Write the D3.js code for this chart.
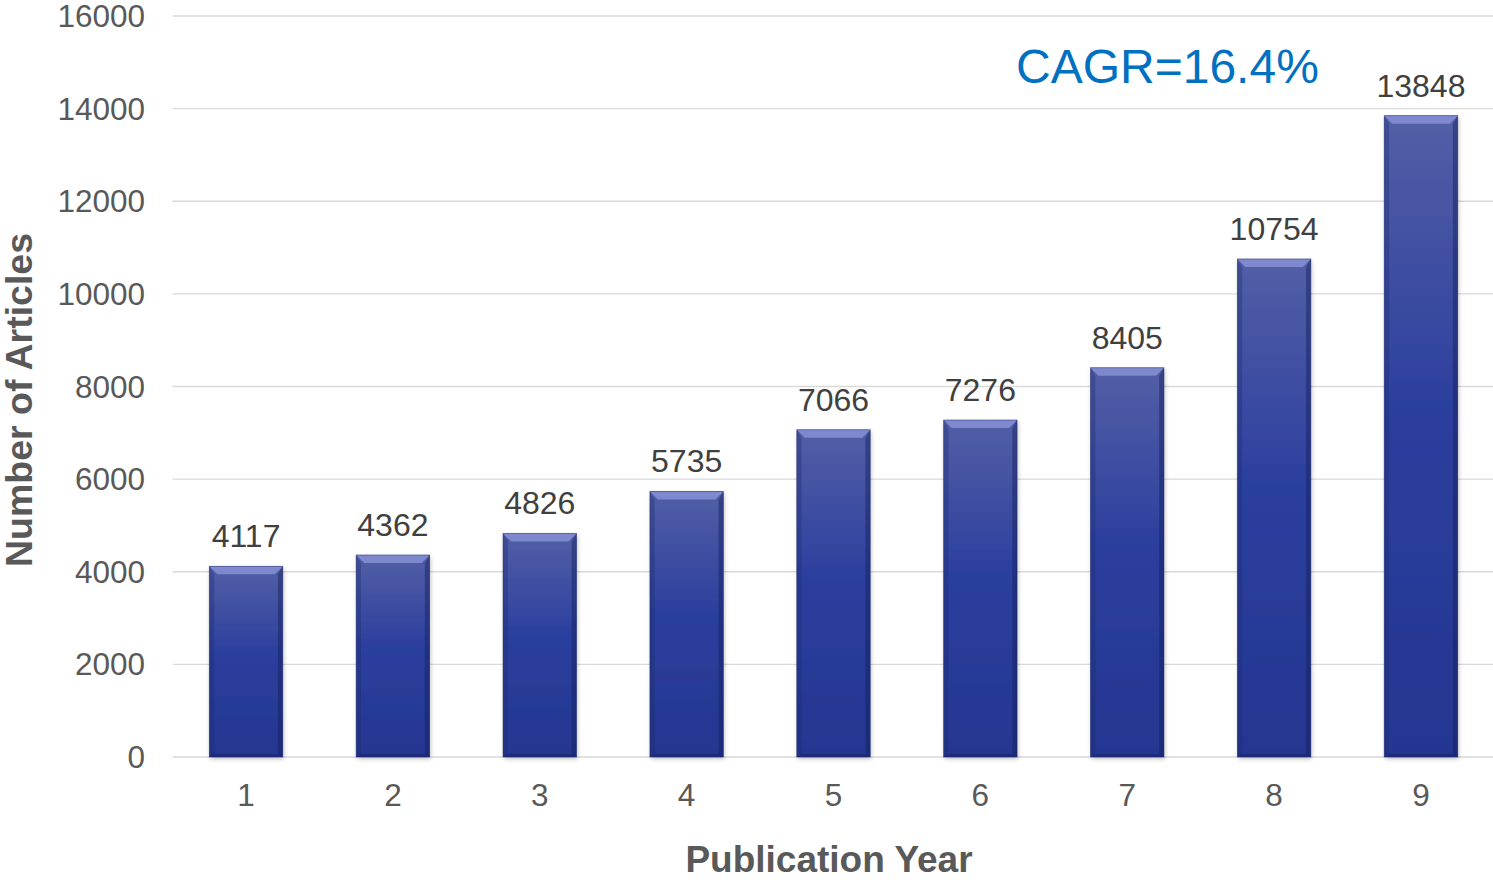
<!DOCTYPE html>
<html><head><meta charset="utf-8">
<script src="https://cdn.jsdelivr.net/npm/d3@7"></script>
<style>html,body{margin:0;padding:0;background:#fff;}svg{display:block;font-family:"Liberation Sans",Arial,sans-serif;}</style>
</head><body>
<svg id="c" width="1493" height="880"></svg>
<script>
const categories = ["1","2","3","4","5","6","7","8","9"];
const values = [4117,4362,4826,5735,7066,7276,8405,10754,13848];
const yTicks = [0,2000,4000,6000,8000,10000,12000,14000,16000];
const annotation = "CAGR=16.4%";
const xTitle = "Publication Year";
const yTitle = "Number of Articles";

(function(){
const svg = d3.select("#c");
const pL = 172.6, pR = 1494.4, pT = 16, pB = 757;
const x = d3.scaleBand().domain(categories).range([pL, pR]).paddingInner(0.5).paddingOuter(0.25);
const y = d3.scaleLinear().domain([0,16000]).range([pB, pT]);

const defs = svg.append("defs");
const g1 = defs.append("linearGradient").attr("id","barGrad").attr("x1",0).attr("y1",0).attr("x2",0).attr("y2",1);
g1.append("stop").attr("offset","0%").attr("stop-color","#535fa6");
g1.append("stop").attr("offset","45%").attr("stop-color","#2c3f9e");
g1.append("stop").attr("offset","100%").attr("stop-color","#243690");
const f = defs.append("filter").attr("id","sh").attr("x","-20%").attr("y","-5%").attr("width","140%").attr("height","115%");
f.append("feDropShadow").attr("dx",1).attr("dy",2).attr("stdDeviation",2).attr("flood-color","#000").attr("flood-opacity",0.25);

svg.append("g").selectAll("line").data(yTicks).join("line")
  .attr("x1",pL).attr("x2",1493).attr("y1",d=>y(d)).attr("y2",d=>y(d))
  .attr("stroke","#d9d9d9").attr("stroke-width",1.3);

svg.append("g").selectAll("text").data(yTicks).join("text")
  .attr("x",145).attr("y",d=>y(d)).attr("dy","0.35em").attr("text-anchor","end")
  .attr("font-size",31.5).attr("fill","#595959").text(d=>d);

const bw = x.bandwidth();
const bars = svg.append("g").selectAll("g").data(values).join("g")
  .attr("transform",(d,i)=>`translate(${x(categories[i])},${y(d)})`);
bars.append("rect").attr("width",bw).attr("height",d=>pB-y(d))
  .attr("fill","url(#barGrad)").attr("filter","url(#sh)");
const bev = 8;
bars.append("path").attr("d",d=>`M0,0 L${bw},0 L${bw-bev},${bev} L${bev},${bev} Z`).attr("fill","#8e97dc").attr("opacity",0.75);
bars.append("path").attr("d",d=>{const h=pB-y(d);return `M0,0 L${bev*0.6},${bev} L${bev*0.6},${h-3} L0,${h} Z`;}).attr("fill","#1c2a70").attr("opacity",0.35);
bars.append("path").attr("d",d=>{const h=pB-y(d);return `M${bw},0 L${bw-bev*0.6},${bev} L${bw-bev*0.6},${h-3} L${bw},${h} Z`;}).attr("fill","#141f5c").attr("opacity",0.45);
bars.append("path").attr("d",d=>{const h=pB-y(d);return `M0,${h} L${bev*0.6},${h-3} L${bw-bev*0.6},${h-3} L${bw},${h} Z`;}).attr("fill","#141f5c").attr("opacity",0.4);
bars.append("rect").attr("width",bw).attr("height",d=>pB-y(d)).attr("fill","none").attr("stroke","#1a2668").attr("stroke-width",0.8).attr("stroke-opacity",0.6);

svg.append("g").selectAll("text").data(values).join("text")
  .attr("x",(d,i)=>x(categories[i])+bw/2).attr("y",d=>y(d)-19)
  .attr("text-anchor","middle").attr("font-size",32).attr("fill","#404040").text(d=>d);

svg.append("g").selectAll("text").data(categories).join("text")
  .attr("x",d=>x(d)+bw/2).attr("y",806).attr("text-anchor","middle")
  .attr("font-size",31.5).attr("fill","#595959").text(d=>d);

svg.append("text").attr("x",829).attr("y",872).attr("text-anchor","middle")
  .attr("font-size",37).attr("font-weight","bold").attr("fill","#595959").text(xTitle);
svg.append("text").attr("transform","translate(32,400) rotate(-90)").attr("text-anchor","middle")
  .attr("font-size",37.5).attr("font-weight","bold").attr("fill","#595959").text(yTitle);

svg.append("text").attr("x",1016).attr("y",83).attr("font-size",48).attr("fill","#0070c0").text(annotation);
})();
</script>
</body></html>
